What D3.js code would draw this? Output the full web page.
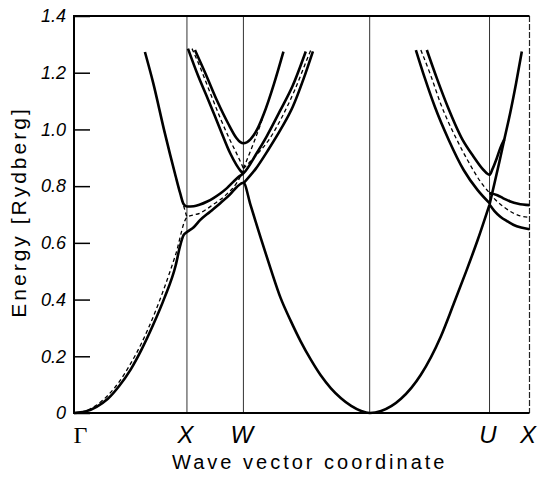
<!DOCTYPE html>
<html>
<head>
<meta charset="utf-8">
<script src="https://cdn.jsdelivr.net/npm/d3@7"></script>
<style>
  body { margin: 0; background: #fff; }
  svg text { font-family: "Liberation Sans", Arial, sans-serif; fill: #000; }
</style>
</head>
<body>
<svg width="540" height="477"></svg>
<script>
// wave vector along the path, units of 2pi/a: G X W G U X
let symK = [0, 1, 1.5, 2.618, 3.679, 4.033];
let xTickK = [0, 1, 1.5, 3.679, 4.033];
let xTickLabels = ["Γ", "X", "W", "U", "X"];
let yTicks = [0, 0.2, 0.4, 0.6, 0.8, 1.0, 1.2, 1.4];
let yTickLabels = ["0", "0.2", "0.4", "0.6", "0.8", "1.0", "1.2", "1.4"];

// calculated bands (solid), [k, energy in Ry]
let lowerBand = [[0,0],[0.1,0.005],[0.2,0.022],[0.3,0.05],[0.4,0.095],[0.5,0.152],[0.6,0.225],[0.7,0.31],[0.8,0.405],[0.9,0.52],[0.94,0.59],[0.97,0.627],[1.0,0.638],
  [1.06,0.655],[1.116,0.68],[1.205,0.71],[1.295,0.74],[1.38,0.77],[1.444,0.798],[1.5,0.812],
  [1.562,0.735],[1.651,0.62],[1.740,0.51],[1.830,0.405],[1.919,0.325],[2.008,0.252],[2.097,0.188],[2.186,0.132],[2.275,0.087],[2.364,0.052],[2.454,0.025],[2.543,0.007],[2.618,0],
  [2.719,0.007],[2.895,0.05],[3.071,0.135],[3.248,0.27],[3.362,0.385],[3.468,0.495],[3.574,0.61],[3.679,0.735]];
let lowerUX = [[3.679,0.735],[3.723,0.712],[3.775,0.692],[3.836,0.676],[3.889,0.664],[3.959,0.654],[4.033,0.648]];
let risingUX = [[3.679,0.735],[3.723,0.81],[3.766,0.885],[3.81,0.965],[3.863,1.06],[3.915,1.165],[3.965,1.275]];
let secondBand = [[0.628,1.273],[0.7,1.166],[0.8,0.994],[0.85,0.913],[0.9,0.835],[0.94,0.775],[0.97,0.737],[1.0,0.728],
  [1.06,0.729],[1.116,0.735],[1.175,0.745],[1.235,0.758],[1.295,0.774],[1.354,0.793],[1.41,0.815],[1.458,0.833],[1.5,0.845],
  [1.616,0.915],[1.705,0.975],[1.83,1.07],[1.937,1.155],[2.052,1.275]];
let descOuterXW = [[1.009,1.285],[1.098,1.19],[1.188,1.105],[1.295,1.0],[1.384,0.915],[1.438,0.875],[1.473,0.855],[1.5,0.845]];
let riseOuterWG = [[1.5,0.81],[1.607,0.86],[1.723,0.93],[1.83,1.0],[1.937,1.08],[2.034,1.18],[2.115,1.275]];
let vBandW = [[1.071,1.28],[1.161,1.2],[1.268,1.1],[1.366,1.02],[1.438,0.97],[1.473,0.955],[1.5,0.951],
  [1.562,0.965],[1.592,0.98],[1.634,1.01],[1.681,1.055],[1.77,1.16],[1.854,1.274]];
let descOuterGU = [[3.027,1.28],[3.107,1.18],[3.195,1.08],[3.318,0.963],[3.45,0.857],[3.574,0.786],[3.679,0.74]];
let upperUX = [[3.679,0.776],[3.749,0.768],[3.801,0.757],[3.863,0.746],[3.933,0.738],[4.033,0.733]];
let vBandU = [[3.124,1.28],[3.213,1.18],[3.309,1.08],[3.441,0.963],[3.538,0.904],[3.626,0.857],[3.679,0.84],
  [3.705,0.86],[3.74,0.895],[3.775,0.935],[3.81,0.965]];

// free electron bands (dashed)
let freeLow = [[0,0],[0.1,0.007],[0.2,0.028],[0.3,0.062],[0.4,0.11],[0.5,0.173],[0.6,0.248],[0.7,0.338],[0.8,0.442],[0.9,0.559],[1.0,0.69],
  [1.116,0.705],[1.232,0.735],[1.348,0.77],[1.438,0.81],[1.5,0.855]];
let freeGX2 = [[0.8,0.994],[0.85,0.913],[0.9,0.835],[0.95,0.76],[1.0,0.69]];
let freeXWdesc = [[1.045,1.285],[1.116,1.22],[1.205,1.13],[1.295,1.04],[1.384,0.96],[1.446,0.91],[1.5,0.8625]];
let freeWGpair = [[1.5,0.8625],[1.616,0.91],[1.73,0.966],[1.842,1.044],[1.954,1.1385],[2.067,1.251],[2.097,1.28]];
let freeWGsingle = [[1.5,0.8625],[1.562,0.923],[1.616,0.979],[1.678,1.049]];
let freeGU = [[3.071,1.28],[3.159,1.19],[3.247,1.09],[3.388,0.965],[3.494,0.885],[3.6,0.815],[3.679,0.776]];
let freeUX = [[3.679,0.776],[3.731,0.752],[3.801,0.728],[3.880,0.707],[3.950,0.695],[4.033,0.69]];

let margin = {top: 16, right: 10.5, bottom: 64, left: 74},
    width = 540 - margin.left - margin.right,
    height = 477 - margin.top - margin.bottom;

let svg = d3.select("svg");
let g = svg.append("g").attr("transform", "translate(" + margin.left + "," + margin.top + ")");

let xdim = d3.scaleLinear().domain([0, symK[symK.length - 1]]).range([0, width]);
let ydim = d3.scaleLinear().domain([0, 1.4]).range([height, 0]);

// symmetry point verticals
g.selectAll(".sym")
    .data(symK.slice(1, -1))
    .enter().append("line")
    .attr("class", "sym")
    .attr("x1", d => xdim(d)).attr("x2", d => xdim(d))
    .attr("y1", 0).attr("y2", height)
    .style("stroke", "#333").style("stroke-width", 1);

// right edge, dotted
g.append("line")
    .attr("x1", xdim(symK[symK.length - 1])).attr("x2", xdim(symK[symK.length - 1]))
    .attr("y1", 0).attr("y2", height)
    .style("stroke", "#222").style("stroke-width", 1.2).style("stroke-dasharray", "6,2");

// y axis, ticks pointing inward
let yAxis = g.append("g")
    .call(d3.axisLeft(ydim).tickValues(yTicks).tickSizeInner(-16).tickSizeOuter(0).tickPadding(8)
        .tickFormat((d, i) => yTickLabels[i]));
yAxis.select(".domain").remove();
yAxis.selectAll(".tick line").style("stroke", "#000").style("stroke-width", 1.5);
yAxis.selectAll(".tick text")
    .style("font-size", "18px").style("font-style", "italic");

// x axis labels
let xAxis = g.append("g")
    .attr("transform", "translate(0," + height + ")")
    .call(d3.axisBottom(xdim).tickValues(xTickK).tickSize(0).tickFormat((d, i) => xTickLabels[i]));
xAxis.select(".domain").remove();
xAxis.selectAll(".tick text")
    .attr("y", 30).attr("dy", 0)
    .style("font-size", "24px")
    .style("font-style", (d, i) => i == 0 ? "normal" : "italic")
    .style("font-family", (d, i) => i == 0 ? "'Liberation Serif', serif" : null)
    .attr("dx", (d, i) => i == 0 ? 6 : -2);

// frame
g.append("path")
    .attr("d", "M" + width + ",0H0V" + height + "H" + width)
    .style("fill", "none").style("stroke", "#000").style("stroke-width", 2);

let line = d3.line()
    .x(d => xdim(d[0]))
    .y(d => ydim(d[1]))
    .curve(d3.curveMonotoneX);

let freeBands = [freeLow, freeGX2, freeXWdesc, freeWGpair, freeWGsingle, freeGU, freeUX];
g.selectAll(".free")
    .data(freeBands)
    .enter().append("path")
    .attr("class", "free")
    .attr("d", line)
    .style("fill", "none").style("stroke", "#000")
    .style("stroke-width", 1.3).style("stroke-dasharray", "4,3");

let bands = [lowerBand, lowerUX, risingUX, secondBand, descOuterXW, riseOuterWG, vBandW, descOuterGU, upperUX, vBandU];
g.selectAll(".band")
    .data(bands)
    .enter().append("path")
    .attr("class", "band")
    .attr("d", line)
    .style("fill", "none").style("stroke", "#000")
    .style("stroke-width", 2.6).style("stroke-linejoin", "round");

// axis titles
svg.append("text")
    .attr("transform", "translate(" + (margin.left + width / 2 + 8) + ",469)")
    .style("text-anchor", "middle")
    .style("font-size", "20px")
    .style("letter-spacing", "3px")
    .text("Wave vector coordinate");

svg.append("text")
    .attr("transform", "translate(26,212) rotate(-90)")
    .style("text-anchor", "middle")
    .style("font-size", "21px")
    .style("letter-spacing", "3px")
    .text("Energy [Rydberg]");
</script>
</body>
</html>
